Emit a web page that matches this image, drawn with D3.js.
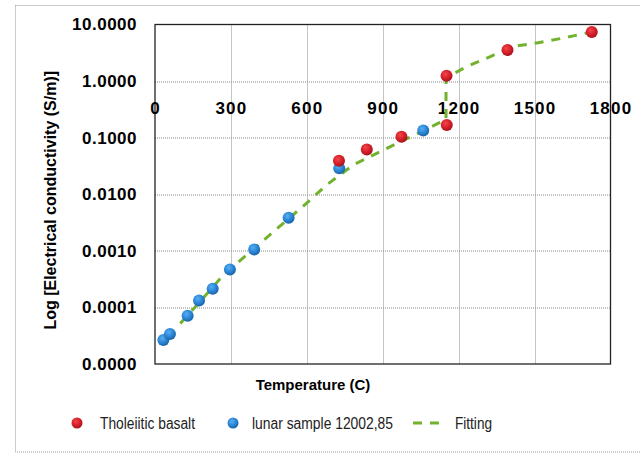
<!DOCTYPE html>
<meta charset="utf-8">
<script src="https://d3js.org/d3.v7.min.js"></script>
<style>
  body { margin: 0; background: #fff; }
  .tick text { font-family: Arial, 'Liberation Sans', sans-serif; font-size: 17px; font-weight: bold; fill: #000; }
  .axis .domain { display: none; }
</style>
<body>
<svg width="640" height="456"></svg>
<script>

// data
var basaltT = [727, 837, 974, 1153, 1152, 1393, 1726];
var basaltV = [0.039, 0.062, 0.104, 0.167, 1.24, 3.53, 7.35];

var lunarT = [33, 59, 129, 174, 228, 296, 392, 528, 728, 1060];
var lunarV = [2.65e-5, 3.4e-5, 7.1e-5, 1.33e-4, 2.14e-4, 4.7e-4, 1.06e-3, 3.85e-3, 0.0287, 0.1345];

var fitT = [100, 180, 257, 323, 461, 606, 678, 783, 876, 961, 1040, 1126, 1150, 1150, 1231, 1323, 1422, 1514, 1619, 1726];
var fitV = [5.2e-5, 1.3e-4, 3.2e-4, 6.0e-4, 2.04e-3, 7.4e-3, 0.0146, 0.0328, 0.0528, 0.081, 0.119, 0.186, 0.21, 1.15, 1.79, 2.69, 4.15, 4.75, 5.82, 7.4];

var xTicks = [0, 300, 600, 900, 1200, 1500, 1800];
var yTicks = [1e-5, 1e-4, 1e-3, 1e-2, 1e-1, 1, 10];

var svg = d3.select("svg"),
    margin = {top: 24.5, right: 29.5, bottom: 92, left: 155},
    width = 640 - margin.left - margin.right,
    height = 456 - margin.top - margin.bottom;

// outer chart frame (dotted)
svg.append("rect")
    .attr("x", 15.5).attr("y", 5.5)
    .attr("width", 640).attr("height", 446.5)
    .attr("fill", "none")
    .attr("stroke", "#999")
    .attr("stroke-dasharray", "1,1");

var defs = svg.append("defs");
function ball(id, light, mid, dark) {
  var gr = defs.append("radialGradient").attr("id", id)
      .attr("cx", "40%").attr("cy", "35%").attr("r", "65%");
  gr.append("stop").attr("offset", "0%").attr("stop-color", light);
  gr.append("stop").attr("offset", "55%").attr("stop-color", mid);
  gr.append("stop").attr("offset", "100%").attr("stop-color", dark);
}
ball("redBall", "#f0484c", "#d8202a", "#a8141c");
ball("blueBall", "#5aaef0", "#2c88d8", "#1a64a8");

var g = svg.append("g").attr("transform", "translate(" + margin.left + "," + margin.top + ")");

var x = d3.scaleLinear().domain([0, 1800]).range([0, width]);
var y = d3.scaleLog().domain([1e-5, 10]).range([height, 0]);

// grid
g.append("g").selectAll("line")
  .data(xTicks.slice(1, -1))
  .enter().append("line")
    .attr("x1", function(d) { return Math.round(x(d)) + 0.5; })
    .attr("x2", function(d) { return Math.round(x(d)) + 0.5; })
    .attr("y1", 0).attr("y2", height)
    .attr("stroke", "#888").attr("stroke-dasharray", "1,1");

g.append("g").selectAll("line")
  .data(yTicks.slice(1, -1))
  .enter().append("line")
    .attr("x1", 0).attr("x2", width)
    .attr("y1", function(d) { return Math.round(y(d)) + 0.5; })
    .attr("y2", function(d) { return Math.round(y(d)) + 0.5; })
    .attr("stroke", "#888").attr("stroke-dasharray", "1,1");

// plot border
g.append("rect")
    .attr("x", 0).attr("y", 0)
    .attr("width", width).attr("height", height)
    .attr("fill", "none")
    .attr("stroke", "#222").attr("stroke-width", 1.3);

// y axis
g.append("g")
    .attr("class", "axis")
    .call(d3.axisLeft(y).tickValues(yTicks).tickSize(0).tickPadding(18)
      .tickFormat(function(d) { return d3.format(".4f")(d); }))
  .selectAll("text")
    .attr("letter-spacing", 0.5);

// x axis crosses at 1.0, labels below that line
g.append("g")
    .attr("class", "axis")
    .attr("transform", "translate(0," + y(1) + ")")
    .call(d3.axisBottom(x).tickValues(xTicks).tickSize(0).tickPadding(21).tickFormat(d3.format("d")))
  .selectAll("text")
    .attr("letter-spacing", 1.2);

// fitting line
var fitPts = fitT.map(function(t, i) { return [t, fitV[i]]; });
g.append("path")
    .datum(fitPts)
    .attr("fill", "none")
    .attr("stroke", "#72b22e")
    .attr("stroke-width", 3)
    .attr("stroke-dasharray", "9,8")
    .attr("d", d3.line()
      .x(function(d) { return x(d[0]); })
      .y(function(d) { return y(d[1]); }));

// points
g.append("g").selectAll("circle")
  .data(lunarT.map(function(t, i) { return [t, lunarV[i]]; }))
  .enter().append("circle")
    .attr("cx", function(d) { return x(d[0]); })
    .attr("cy", function(d) { return y(d[1]); })
    .attr("r", 6)
    .attr("fill", "url(#blueBall)");

g.append("g").selectAll("circle")
  .data(basaltT.map(function(t, i) { return [t, basaltV[i]]; }))
  .enter().append("circle")
    .attr("cx", function(d) { return x(d[0]); })
    .attr("cy", function(d) { return y(d[1]); })
    .attr("r", 6)
    .attr("fill", "url(#redBall)");

// axis titles
svg.append("text")
    .attr("transform", "translate(56," + (margin.top + height / 2 + 6) + ") rotate(-90)")
    .attr("text-anchor", "middle")
    .attr("font-family", "Arial, 'Liberation Sans', sans-serif")
    .attr("font-size", 16).attr("font-weight", "bold")
    .text("Log [Electrical conductivity (S/m)]");

svg.append("text")
    .attr("x", 313).attr("y", 390)
    .attr("text-anchor", "middle")
    .attr("font-family", "Arial, 'Liberation Sans', sans-serif")
    .attr("font-size", 15).attr("font-weight", "bold")
    .text("Temperature (C)");

// legend
var legend = svg.append("g")
    .attr("font-family", "'Liberation Sans Narrow', 'Arial Narrow', sans-serif")
    .attr("font-size", 16)
    .attr("fill", "#222");

legend.append("circle").attr("cx", 77).attr("cy", 423).attr("r", 5.5).attr("fill", "url(#redBall)");
legend.append("text").attr("x", 100).attr("y", 429)
    .attr("textLength", 95).attr("lengthAdjust", "spacingAndGlyphs").text("Tholeiitic basalt");
legend.append("circle").attr("cx", 233).attr("cy", 423).attr("r", 5.5).attr("fill", "url(#blueBall)");
legend.append("text").attr("x", 252).attr("y", 429)
    .attr("textLength", 141).attr("lengthAdjust", "spacingAndGlyphs").text("lunar sample 12002,85");
legend.append("line").attr("x1", 413).attr("x2", 444).attr("y1", 423).attr("y2", 423)
    .attr("stroke", "#72b22e").attr("stroke-width", 3).attr("stroke-dasharray", "9,8");
legend.append("text").attr("x", 455).attr("y", 429)
    .attr("textLength", 37).attr("lengthAdjust", "spacingAndGlyphs").text("Fitting");

</script>
</body>
